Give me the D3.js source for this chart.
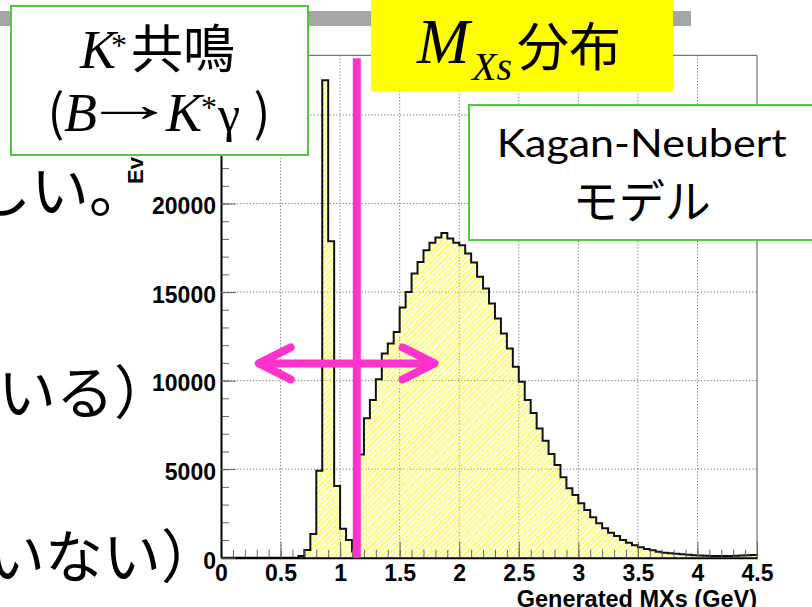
<!DOCTYPE html>
<html>
<head>
<meta charset="utf-8">
<script src="https://cdn.jsdelivr.net/npm/d3@7"></script>
<style>
  html, body { margin: 0; padding: 0; background: #fff; }
  svg { display: block; }
</style>
</head>
<body>
<svg id="chart"></svg>
<script>
// ===========================
// 1. Data
// ===========================

// histogram binning: 90 bins of 0.05 GeV from 0 to 4.5 GeV
const binStart = 0;
const binWidth = 0.05;
const xDomain = [0, 4.5];
const yMax = 28370;

// events per bin
const counts = [
  0, 0, 0, 0, 0, 0, 0, 0, 0, 0,
  0, 0, 0, 100, 430, 1340, 4910, 26960, 17870, 4050,
  1640, 1000, 350, 5830, 7870, 8900, 10080, 11530, 12100, 12750,
  14130, 15010, 16050, 16700, 17360, 17780, 18080, 18340, 18020, 17780,
  17650, 17180, 16670, 15860, 15200, 14360, 13510, 12660, 11820, 10780,
  9930, 8900, 8170, 7300, 6600, 5850, 5230, 4540, 3920, 3540,
  3070, 2690, 2280, 1940, 1660, 1410, 1230, 1000, 850, 700,
  590, 490, 420, 340, 280, 250, 220, 190, 160, 140,
  120, 110, 100, 95, 90, 90, 110, 130, 140, 150
];

const xTicks = [0, 0.5, 1, 1.5, 2, 2.5, 3, 3.5, 4, 4.5];
const xTickLabels = ["0", "0.5", "1", "1.5", "2", "2.5", "3", "3.5", "4", "4.5"];
const xMinorStep = 0.1;
const yTicks = [0, 5000, 10000, 15000, 20000, 25000];
const yTickLabels = ["0", "5000", "10000", "15000", "20000", "25000"];
const yMinorStep = 1000;

const xTitle = "Generated MXs (GeV)";
const yTitle = "Events";

// annotations
const cutMass = 1.14;           // pink separator
const arrowSpan = [0.30, 1.81];  // pink double arrow
const arrowLevel = 10970;

// ===========================
// 2. Layout
// ===========================
const W = 812, H = 607;
const plot = { left: 221, right: 757, top: 55.3, bottom: 557.7 };
const pink = "#ff33cc";
const green = "#4dcb3d";
const tickFont = "'Liberation Sans', Arial, sans-serif";
const cjk = "'Noto Sans CJK JP', sans-serif";
const serif = "'Liberation Serif', 'Times New Roman', serif";

const svg = d3.select("#chart")
  .attr("width", W)
  .attr("height", H)
  .attr("viewBox", `0 0 ${W} ${H}`);

svg.append("rect").attr("width", W).attr("height", H).attr("fill", "#fff");

// hatch pattern (ROOT style "/" in yellow)
const defs = svg.append("defs");
defs.append("pattern")
  .attr("id", "hatch")
  .attr("patternUnits", "userSpaceOnUse")
  .attr("width", 3.6)
  .attr("height", 3.6)
  .attr("patternTransform", "rotate(45)")
  .append("line")
  .attr("x1", 0.5).attr("y1", 0)
  .attr("x2", 0.5).attr("y2", 3.6)
  .attr("stroke", "#ffff00")
  .attr("stroke-width", 1.1);

// slide header bar
svg.append("rect")
  .attr("x", 0).attr("y", 11)
  .attr("width", 691).attr("height", 15)
  .attr("fill", "#a6a6a6");

// ===========================
// 3. Scales
// ===========================
const x = d3.scaleLinear().domain(xDomain).range([plot.left, plot.right]);
const y = d3.scaleLinear().domain([0, yMax]).range([plot.bottom, plot.top]);

const g = svg.append("g");

// Grid (dotted)
g.selectAll(".vgrid")
  .data(xTicks.slice(1, -1))
  .enter()
  .append("line")
  .attr("x1", d => x(d)).attr("x2", d => x(d))
  .attr("y1", plot.top).attr("y2", plot.bottom)
  .attr("stroke", "#777")
  .attr("stroke-width", 1)
  .attr("stroke-dasharray", "1.2,2");

g.selectAll(".hgrid")
  .data(yTicks.slice(1))
  .enter()
  .append("line")
  .attr("x1", plot.left).attr("x2", plot.right)
  .attr("y1", d => y(d)).attr("y2", d => y(d))
  .attr("stroke", "#777")
  .attr("stroke-width", 1)
  .attr("stroke-dasharray", "1.2,2");

// ===========================
// 4. Histogram
// ===========================
const bins = counts.map((c, i) => ({ x0: binStart + i * binWidth, c }));
const stepPts = bins.concat([{ x0: xDomain[1], c: counts[counts.length - 1] }]);

const area = d3.area()
  .curve(d3.curveStepAfter)
  .x(d => x(d.x0))
  .y0(y(0))
  .y1(d => y(d.c));

const line = d3.line()
  .curve(d3.curveStepAfter)
  .x(d => x(d.x0))
  .y(d => y(d.c));

g.append("path")
  .attr("d", area(stepPts))
  .attr("fill", "url(#hatch)");

g.append("path")
  .attr("d", line(stepPts))
  .attr("fill", "none")
  .attr("stroke", "#111")
  .attr("stroke-width", 2)
  .attr("stroke-linejoin", "miter");

// ===========================
// 5. Axes and frame
// ===========================
// frame (top/right)
g.append("path")
  .attr("d", `M${plot.left},${plot.top}H${plot.right}V${plot.bottom}`)
  .attr("fill", "none")
  .attr("stroke", "#555")
  .attr("stroke-width", 1);

const xMinor = d3.range(xDomain[0], xDomain[1] + 1e-9, xMinorStep);
const yMinor = d3.range(0, yMax, yMinorStep);

const xAxisMinor = g.append("g")
  .attr("transform", `translate(0,${plot.bottom})`)
  .call(d3.axisBottom(x).tickValues(xMinor).tickSize(-8).tickFormat(""));
const yAxisMinor = g.append("g")
  .attr("transform", `translate(${plot.left},0)`)
  .call(d3.axisLeft(y).tickValues(yMinor).tickSize(-8).tickFormat(""));
[xAxisMinor, yAxisMinor].forEach(a => {
  a.select(".domain").remove();
  a.selectAll(".tick line").attr("stroke", "#666");
});

const xAxis = g.append("g")
  .attr("transform", `translate(0,${plot.bottom})`)
  .call(d3.axisBottom(x)
    .tickValues(xTicks)
    .tickFormat((d, i) => xTickLabels[i])
    .tickSize(-16)
    .tickSizeOuter(0)
    .tickPadding(7));

const yAxis = g.append("g")
  .attr("transform", `translate(${plot.left},0)`)
  .call(d3.axisLeft(y)
    .tickValues(yTicks)
    .tickFormat((d, i) => yTickLabels[i])
    .tickSize(-15)
    .tickSizeOuter(0)
    .tickPadding(5));

[xAxis, yAxis].forEach(a => {
  a.select(".domain").attr("stroke", "#000").attr("stroke-width", 2);
  a.selectAll(".tick line").attr("stroke", "#666");
  a.selectAll(".tick text")
    .attr("fill", "#000")
    .style("font-family", tickFont)
    .style("font-weight", "bold")
    .style("font-size", "23px");
});
yAxis.selectAll(".tick text").attr("dy", "0.45em");

// axis titles
svg.append("text")
  .attr("x", plot.right)
  .attr("y", 607)
  .attr("text-anchor", "end")
  .style("font-family", tickFont)
  .style("font-weight", "bold")
  .style("font-size", "23.5px")
  .text(xTitle);

svg.append("text")
  .attr("transform", `translate(143,184) rotate(-90)`)
  .attr("text-anchor", "start")
  .style("font-family", tickFont)
  .style("font-weight", "bold")
  .style("font-size", "22px")
  .text(yTitle);

// ===========================
// 6. Pink annotations
// ===========================
g.append("line")
  .attr("x1", x(cutMass)).attr("x2", x(cutMass))
  .attr("y1", plot.top + 3).attr("y2", plot.bottom)
  .attr("stroke", pink)
  .attr("stroke-width", 8);

const ay = y(arrowLevel);
const ax0 = x(arrowSpan[0]), ax1 = x(arrowSpan[1]);
const arrow = g.append("g")
  .attr("fill", "none")
  .attr("stroke", pink)
  .attr("stroke-width", 8)
  .attr("stroke-linecap", "round")
  .attr("stroke-linejoin", "round");
arrow.append("line").attr("x1", ax0 + 3).attr("x2", ax1 - 3).attr("y1", ay).attr("y2", ay).attr("stroke-linecap", "butt");
arrow.append("path").attr("d", `M${ax0 + 34},${ay - 16}L${ax0 + 2},${ay}L${ax0 + 34},${ay + 16}`);
arrow.append("path").attr("d", `M${ax1 - 34},${ay - 16}L${ax1 - 2},${ay}L${ax1 - 34},${ay + 16}`);

// ===========================
// 7. Slide boxes and text
// ===========================
// K* resonance box
svg.append("rect")
  .attr("x", 11).attr("y", 6)
  .attr("width", 297).attr("height", 149)
  .attr("fill", "#fff")
  .attr("stroke", green)
  .attr("stroke-width", 2);

const t1 = svg.append("g").attr("fill", "#000");
t1.append("text").attr("x", 80).attr("y", 68)
  .style("font-family", serif).style("font-style", "italic").style("font-size", "54px").text("K");
t1.append("text").attr("x", 111).attr("y", 56)
  .style("font-family", serif).style("font-size", "32px").text("*");
t1.append("text").attr("x", 131).attr("y", 68)
  .style("font-family", cjk).style("font-size", "52px").text("共鳴");
t1.append("text").attr("x", 56).attr("y", 131).attr("text-anchor", "middle")
  .style("font-family", cjk).style("font-size", "50px").text("(");
t1.append("text").attr("x", 64).attr("y", 131)
  .style("font-family", serif).style("font-style", "italic").style("font-size", "54px").text("B");
// long thin arrow: the glyph stretched sideways
t1.append("text").attr("transform", "translate(82,121) scale(1.9,1)")
  .style("font-family", serif).style("font-size", "50px").text("→");
t1.append("text").attr("x", 166).attr("y", 131)
  .style("font-family", serif).style("font-style", "italic").style("font-size", "54px").text("K");
t1.append("text").attr("x", 201).attr("y", 118)
  .style("font-family", serif).style("font-size", "32px").text("*");
t1.append("text").attr("x", 218).attr("y", 131)
  .style("font-family", serif).style("font-size", "50px").text("γ");
t1.append("text").attr("x", 262).attr("y", 131).attr("text-anchor", "middle")
  .style("font-family", cjk).style("font-size", "50px").text(")");

// M_Xs title box
svg.append("rect")
  .attr("x", 371).attr("y", 0)
  .attr("width", 302).attr("height", 91)
  .attr("fill", "#ffff00");
svg.append("text").attr("x", 417).attr("y", 63)
  .style("font-family", serif).style("font-style", "italic").style("font-size", "63px").text("M");
svg.append("text").attr("x", 472).attr("y", 80)
  .style("font-family", serif).style("font-style", "italic").style("font-size", "40px").text("Xs");
svg.append("text").attr("x", 517).attr("y", 66)
  .style("font-family", cjk).style("font-size", "52px").text("分布");

// model box
svg.append("rect")
  .attr("x", 469).attr("y", 105)
  .attr("width", 360).attr("height", 135)
  .attr("fill", "#fff")
  .attr("stroke", green)
  .attr("stroke-width", 2);
svg.append("text").attr("x", 641.7).attr("y", 157).attr("text-anchor", "middle")
  .attr("textLength", 290).attr("lengthAdjust", "spacingAndGlyphs")
  .style("font-family", "Lato, 'Open Sans', sans-serif").style("font-size", "38px").text("Kagan-Neubert");
svg.append("text").attr("x", 641.7).attr("y", 218).attr("text-anchor", "middle")
  .style("font-family", cjk).style("font-size", "46px").text("モデル");

// slide body text (cut at the left edge)
const bodyLines = [
  { text: "しい。", x: -27, y: 212 },
  { text: "いる）", x: -2, y: 414 },
  { text: "いない）", x: -13, y: 578 }
];
svg.selectAll(".body")
  .data(bodyLines)
  .enter()
  .append("text")
  .attr("x", d => d.x)
  .attr("y", d => d.y)
  .style("font-family", cjk)
  .style("font-size", "58px")
  .text(d => d.text);
</script>
</body>
</html>
